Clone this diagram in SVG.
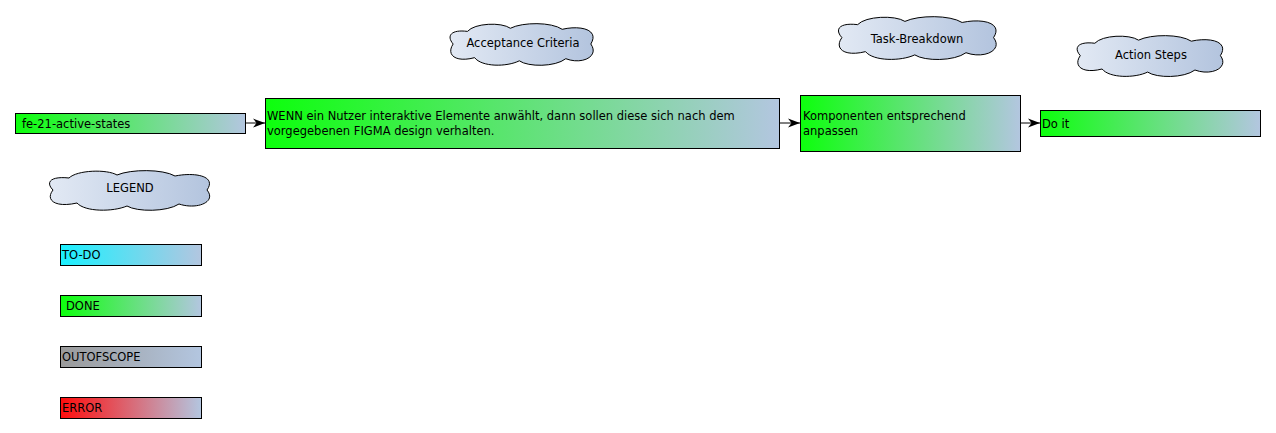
<svg xmlns="http://www.w3.org/2000/svg" width="1276" height="433" viewBox="0 0 1276 433">
<style>
text{font-family:"DejaVu Sans","Liberation Sans",sans-serif;font-size:11.5px;fill:#000}
.box{stroke:#000;stroke-width:1}
.cloud{stroke:#000;stroke-width:1;fill:url(#gCloud)}
.conn{stroke:#000;stroke-width:1;fill:none}
</style>
<defs>
<linearGradient id="gGreen" x1="0" y1="0" x2="1" y2="0"><stop offset="0" stop-color="#0dff0d"/><stop offset="1" stop-color="#b3c6e0"/></linearGradient>
<linearGradient id="gCyan" x1="0" y1="0" x2="1" y2="0"><stop offset="0" stop-color="#1af0ff"/><stop offset="1" stop-color="#b3c6e0"/></linearGradient>
<linearGradient id="gGray" x1="0" y1="0" x2="1" y2="0"><stop offset="0" stop-color="#9a9a9a"/><stop offset="1" stop-color="#b3c6e0"/></linearGradient>
<linearGradient id="gRed" x1="0" y1="0" x2="1" y2="0"><stop offset="0" stop-color="#ff0d0d"/><stop offset="1" stop-color="#b3c6e0"/></linearGradient>
<linearGradient id="gCloud" x1="0" y1="0" x2="1" y2="0"><stop offset="0" stop-color="#e2e9f4"/><stop offset="1" stop-color="#b3c4de"/></linearGradient>
<marker id="arr" viewBox="0 0 12 12" refX="12" refY="6" markerWidth="12" markerHeight="12" markerUnits="userSpaceOnUse" orient="auto"><path d="M0,1.5 L12,6 L0,10.5 L3.5,6 Z" fill="#000"/></marker>
</defs>

<g id="cloud-acceptance">
<path class="cloud" d="M 8 20 C 0 12, 6 6, 24 8 C 32 0, 62 -1, 72 5 C 86 -1, 118 -1, 130 6 C 150 2, 172 6, 162 20 C 172 32, 152 40, 134 34 C 122 42, 92 42, 82 36 C 68 42, 40 42, 32 33 C 10 38, 0 30, 8 20 Z" transform="translate(446,23) scale(0.894,1.05)" vector-effect="non-scaling-stroke"/>
<text x="523" y="47" text-anchor="middle">Acceptance Criteria</text>
</g>
<g id="cloud-task">
<path class="cloud" d="M 8 20 C 0 12, 6 6, 24 8 C 32 0, 62 -1, 72 5 C 86 -1, 118 -1, 130 6 C 150 2, 172 6, 162 20 C 172 32, 152 40, 134 34 C 122 42, 92 42, 82 36 C 68 42, 40 42, 32 33 C 10 38, 0 30, 8 20 Z" transform="translate(834,16) scale(0.985,1.08)" vector-effect="non-scaling-stroke"/>
<text x="917" y="43" text-anchor="middle">Task-Breakdown</text>
</g>
<g id="cloud-action">
<path class="cloud" d="M 8 20 C 0 12, 6 6, 24 8 C 32 0, 62 -1, 72 5 C 86 -1, 118 -1, 130 6 C 150 2, 172 6, 162 20 C 172 32, 152 40, 134 34 C 122 42, 92 42, 82 36 C 68 42, 40 42, 32 33 C 10 38, 0 30, 8 20 Z" transform="translate(1073,35) scale(0.91,1.03)" vector-effect="non-scaling-stroke"/>
<text x="1151" y="59" text-anchor="middle">Action Steps</text>
</g>
<g id="cloud-legend">
<path class="cloud" d="M 8 20 C 0 12, 6 6, 24 8 C 32 0, 62 -1, 72 5 C 86 -1, 118 -1, 130 6 C 150 2, 172 6, 162 20 C 172 32, 152 40, 134 34 C 122 42, 92 42, 82 36 C 68 42, 40 42, 32 33 C 10 38, 0 30, 8 20 Z" transform="translate(45,170) scale(1.0,1.0)" vector-effect="non-scaling-stroke"/>
<text x="130" y="192" text-anchor="middle">LEGEND</text>
</g>

<g id="connectors">
<line class="conn" x1="245" y1="123" x2="265" y2="123" marker-end="url(#arr)"/>
<line class="conn" x1="780" y1="123" x2="800" y2="123" marker-end="url(#arr)"/>
<line class="conn" x1="1020" y1="123" x2="1040" y2="123" marker-end="url(#arr)"/>
</g>

<g id="node-fe21">
<rect class="box" x="15.5" y="113.5" width="230" height="20" fill="url(#gGreen)"/>
<text x="22" y="127.5">fe-21-active-states</text>
</g>
<g id="node-wenn">
<rect class="box" x="265.5" y="98.5" width="514" height="50" fill="url(#gGreen)"/>
<text x="267" y="119.5">WENN ein Nutzer interaktive Elemente anwählt, dann sollen diese sich nach dem</text>
<text x="267" y="134.5">vorgegebenen FIGMA design verhalten.</text>
</g>
<g id="node-komponenten">
<rect class="box" x="800.5" y="95.5" width="220" height="56" fill="url(#gGreen)"/>
<text x="803" y="119.5">Komponenten entsprechend</text>
<text x="803" y="134.5">anpassen</text>
</g>
<g id="node-doit">
<rect class="box" x="1040.5" y="110.5" width="220" height="26" fill="url(#gGreen)"/>
<text x="1042" y="127.5">Do it</text>
</g>

<g id="legend-todo">
<rect class="box" x="60.5" y="244.5" width="141" height="21" fill="url(#gCyan)"/>
<text x="62" y="258.5">TO-DO</text>
</g>
<g id="legend-done">
<rect class="box" x="60.5" y="295.5" width="141" height="21" fill="url(#gGreen)"/>
<text x="66" y="309.5">DONE</text>
</g>
<g id="legend-outofscope">
<rect class="box" x="60.5" y="346.5" width="141" height="21" fill="url(#gGray)"/>
<text x="62" y="360.5">OUTOFSCOPE</text>
</g>
<g id="legend-error">
<rect class="box" x="60.5" y="397.5" width="141" height="21" fill="url(#gRed)"/>
<text x="62" y="411.5">ERROR</text>
</g>
</svg>
